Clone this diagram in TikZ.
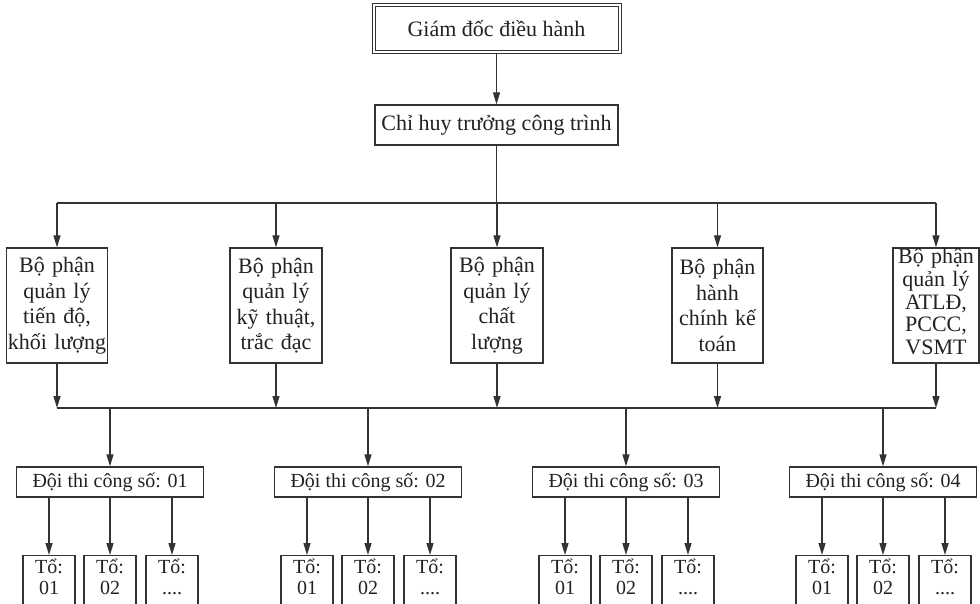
\documentclass[tikz,border=0pt]{standalone}
\usepackage{fontspec}
\setmainfont{Liberation Serif}
\usetikzlibrary{arrows.meta}
\definecolor{linecol}{HTML}{333333}
\definecolor{textcol}{HTML}{222222}
\begin{document}
\begin{tikzpicture}[x=1pt,y=-1pt,
  line/.style={draw=linecol, line width=1.3pt},
  arr/.style={line, -{Triangle[length=12pt,width=7pt]}},
  box/.style={draw=linecol, line width=1.3pt, fill=white, text=textcol, align=center, inner sep=0pt},
  bigfont/.style={font=\fontsize{22}{25.5}\selectfont},
  dept/.style={box, bigfont, minimum height=115pt},
  team/.style={box, font=\fontsize{20}{22}\selectfont, minimum width=187pt, minimum height=30pt},
  tobox/.style={box, font=\fontsize{20}{21}\selectfont, anchor=north, minimum width=52pt, text width=50pt, inner ysep=3pt, text depth=30pt}
]
\useasboundingbox (0,0) rectangle (980,604);
\clip (0,0) rectangle (980,604);
\fill[white] (0,0) rectangle (980,604);

\node[box, bigfont, double=white, double distance=2pt, line width=1pt, minimum width=246pt, minimum height=47pt] (gd) at (496.5,29) {Giám đốc điều hành};
\node[box, bigfont, minimum width=243pt, minimum height=40pt] (ch) at (496.5,125) {Chỉ huy trưởng công trình};
\draw[arr] (gd) -- (ch);

\node[dept, text width=101pt] (d1) at (57,305.5) {Bộ phận\\quản lý\\tiến độ,\\khối lượng};
\node[dept, text width=92pt] (d2) at (276,305.5) {Bộ phận\\quản lý\\kỹ thuật,\\trắc đạc};
\node[dept, text width=92pt] (d3) at (497,305.5) {Bộ phận\\quản lý\\chất\\lượng};
\node[dept, text width=91pt] (d4) at (717.5,305.5) {Bộ phận\\hành\\chính kế\\toán};
\node[dept, text width=86pt, font=\fontsize{22}{23}\selectfont, text height=13pt, text depth=98pt] (d5) at (936,305.5) {Bộ phận\\quản lý\\ATLĐ,\\PCCC,\\VSMT};

\coordinate (bus1) at (0,203);
\coordinate (bus2) at (0,408);
\draw[line] (ch.south) -- (ch.south |- bus1);
\draw[line] (d1.north |- bus1) -- (d5.north |- bus1);
\foreach \d in {d1,d2,d3,d4,d5} {
  \draw[arr] (\d.north |- bus1) -- (\d.north);
  \draw[arr] (\d.south) -- (\d.south |- bus2);
}
\draw[line] (d1.south |- bus2) -- (d5.south |- bus2);

\foreach \i/\c in {1/110,2/368,3/626,4/883} {
  \node[team] (t\i) at (\c,482) {Đội thi công số: 0\i};
  \draw[arr] (t\i.north |- bus2) -- (t\i.north);
  \node[tobox] (to\i-1) at (\c-61,555) {Tổ:\\01};
  \node[tobox] (to\i-2) at (\c,555) {Tổ:\\02};
  \node[tobox] (to\i-3) at (\c+62,555) {Tổ:\\....};
  \foreach \k in {1,2,3} {
    \draw[arr] (t\i.south -| to\i-\k.north) -- (to\i-\k.north);
  }
}
\end{tikzpicture}
\end{document}
